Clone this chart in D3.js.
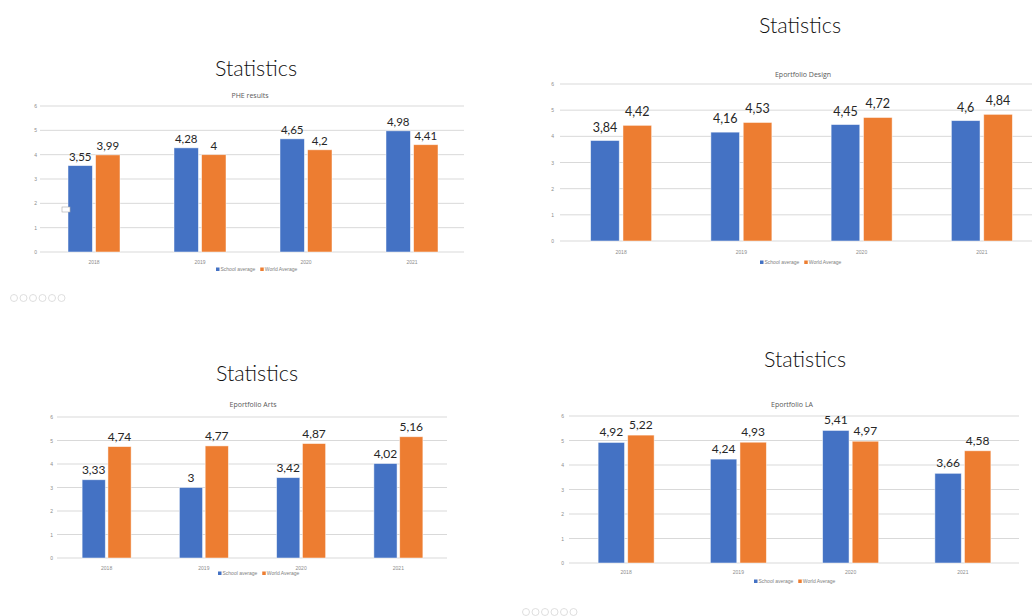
<!DOCTYPE html>
<html><head><meta charset="utf-8">
<script src="https://cdn.jsdelivr.net/npm/d3@7"></script>
<style>body{margin:0;background:#fff}svg{display:block}</style>
</head><body>
<svg id="c" width="1032" height="616"></svg>
<script>
const categories = ["2018", "2019", "2020", "2021"];
const seriesNames = ["School average", "World Average"];
const yTicks = [0, 1, 2, 3, 4, 5, 6];
const pheSchool = [3.55, 4.28, 4.65, 4.98];
const pheWorld = [3.99, 4.00, 4.20, 4.41];
const designSchool = [3.84, 4.16, 4.45, 4.60];
const designWorld = [4.42, 4.53, 4.72, 4.84];
const artsSchool = [3.33, 3.00, 3.42, 4.02];
const artsWorld = [4.74, 4.77, 4.87, 5.16];
const laSchool = [4.92, 4.24, 5.41, 3.66];
const laWorld = [5.22, 4.93, 4.97, 4.58];
const panelTitles = ["PHE results", "Eportfolio Design", "Eportfolio Arts", "Eportfolio LA"];
const colors = ["#4472C4", "#ED7D31"];

const svg = d3.select("#c");
const fmt = v => String(+v.toFixed(2)).replace(".", ",");

function drawPanel(p) {
  const g = svg.append("g");
  g.append("text").attr("x", p.hx).attr("y", p.hy).attr("text-anchor", "middle")
    .attr("font-family", "Lato, 'Open Sans', sans-serif").attr("font-weight", 300)
    .attr("font-size", 21.5).attr("fill", "#111").text("Statistics");
  const x = d3.scaleBand().domain(categories).range([p.x0, p.x1]);
  const y = d3.scaleLinear().domain([0, 6]).range([p.y0, p.y6]);
  g.selectAll(".grid").data(yTicks).enter().append("line")
    .attr("x1", p.gx0).attr("x2", p.gx1)
    .attr("y1", d => y(d)).attr("y2", d => y(d))
    .attr("stroke", "#d9d9d9").attr("stroke-width", 1);
  const yAxis = d3.axisLeft(y).tickValues(yTicks).tickFormat(d3.format("d")).tickSize(0).tickPadding(0);
  const ya = g.append("g").attr("transform", `translate(${p.ylx},0)`).call(yAxis);
  ya.select(".domain").remove();
  ya.selectAll("text").attr("font-size", 5).attr("fill", "#8c8c8c").attr("font-family", "Liberation Sans, sans-serif");
  const xAxis = d3.axisBottom(x).tickSize(0).tickPadding(0);
  const xa = g.append("g").attr("transform", `translate(0,${p.xly})`).call(xAxis);
  xa.select(".domain").remove();
  xa.selectAll("text").attr("font-size", 5).attr("fill", "#8c8c8c").attr("font-family", "Liberation Sans, sans-serif");
  g.append("text").attr("x", p.sx).attr("y", p.sy).attr("text-anchor", "middle")
    .attr("font-family", "'Open Sans', sans-serif").attr("font-size", 7).attr("fill", "#595959")
    .text(p.title);
  const inner = d3.scaleBand().domain([0, 1]).range([-(p.bw + p.gap / 2), p.bw + p.gap / 2]).paddingInner(p.gap / (2 * p.bw + p.gap));
  [p.a, p.b].forEach((vals, si) => {
    const bg = g.append("g");
    bg.selectAll("rect").data(vals).enter().append("rect")
      .attr("x", (d, i) => x(categories[i]) + x.bandwidth() / 2 + inner(si))
      .attr("width", inner.bandwidth())
      .attr("y", d => y(d)).attr("height", d => y(0) - y(d))
      .attr("fill", colors[si]).attr("stroke", "#fff").attr("stroke-opacity", 0.6).attr("stroke-width", 0.8);
    bg.selectAll("text").data(vals).enter().append("text")
      .attr("x", (d, i) => x(categories[i]) + x.bandwidth() / 2 + inner(si) + inner.bandwidth() / 2)
      .attr("y", d => y(d) - p.lo)
      .attr("text-anchor", "middle").attr("font-family", "Lato, 'Open Sans', sans-serif")
      .attr("font-size", p.lf).attr("fill", "#262626").text(d => fmt(d));
  });
  const lg = g.append("g").attr("transform", `translate(${p.lx},${p.ly})`);
  let off = 0;
  seriesNames.forEach((n, i) => {
    lg.append("rect").attr("x", off).attr("y", -3.5).attr("width", 3.5).attr("height", 3.5).attr("fill", colors[i]);
    const t = lg.append("text").attr("x", off + 4.5).attr("y", 0).attr("font-size", 5).attr("fill", "#7f7f7f")
      .attr("font-family", "Liberation Sans, sans-serif").text(n);
    off += 4.5 + t.node().getComputedTextLength() + 5;
  });
}

drawPanel({hx: 256, hy: 76, title: panelTitles[0], sx: 250, sy: 98, a: pheSchool, b: pheWorld,
  x0: 41, x1: 465, gx0: 40, gx1: 464, y0: 252, y6: 106, ylx: 37, xly: 260,
  bw: 23, gap: 6, lo: 5, lf: 11.5, lx: 216, ly: 271});
drawPanel({hx: 800, hy: 33, title: panelTitles[1], sx: 803, sy: 77, a: designSchool, b: designWorld,
  x0: 561, x1: 1042, gx0: 560, gx1: 1032, y0: 241, y6: 84, ylx: 554, xly: 250,
  bw: 27, gap: 7, lo: 9, lf: 12.5, lx: 760, ly: 264});
drawPanel({hx: 257, hy: 381, title: panelTitles[2], sx: 253, sy: 407, a: artsSchool, b: artsWorld,
  x0: 58, x1: 447, gx0: 57, gx1: 447, y0: 558, y6: 417, ylx: 53, xly: 566,
  bw: 22, gap: 5, lo: 6, lf: 12, lx: 218, ly: 575});
drawPanel({hx: 805, hy: 367, title: panelTitles[3], sx: 792, sy: 407, a: laSchool, b: laWorld,
  x0: 570, x1: 1019, gx0: 569, gx1: 1019, y0: 563, y6: 416, ylx: 564, xly: 570,
  bw: 25, gap: 6, lo: 6, lf: 12, lx: 754, ly: 583});

svg.append("rect").attr("x", 62).attr("y", 207).attr("width", 8).attr("height", 5)
  .attr("fill", "#fff").attr("stroke", "#aaa").attr("stroke-width", 0.6);

function icons(x, y) {
  const ig = svg.append("g").attr("transform", `translate(${x},${y})`);
  d3.range(6).forEach(i => {
    ig.append("circle").attr("cx", i * 9.5).attr("cy", 0).attr("r", 3.5)
      .attr("fill", "none").attr("stroke", "#d6d6d6").attr("stroke-width", 0.8);
  });
}
icons(14, 298);
icons(526, 612);
</script>
</body></html>
